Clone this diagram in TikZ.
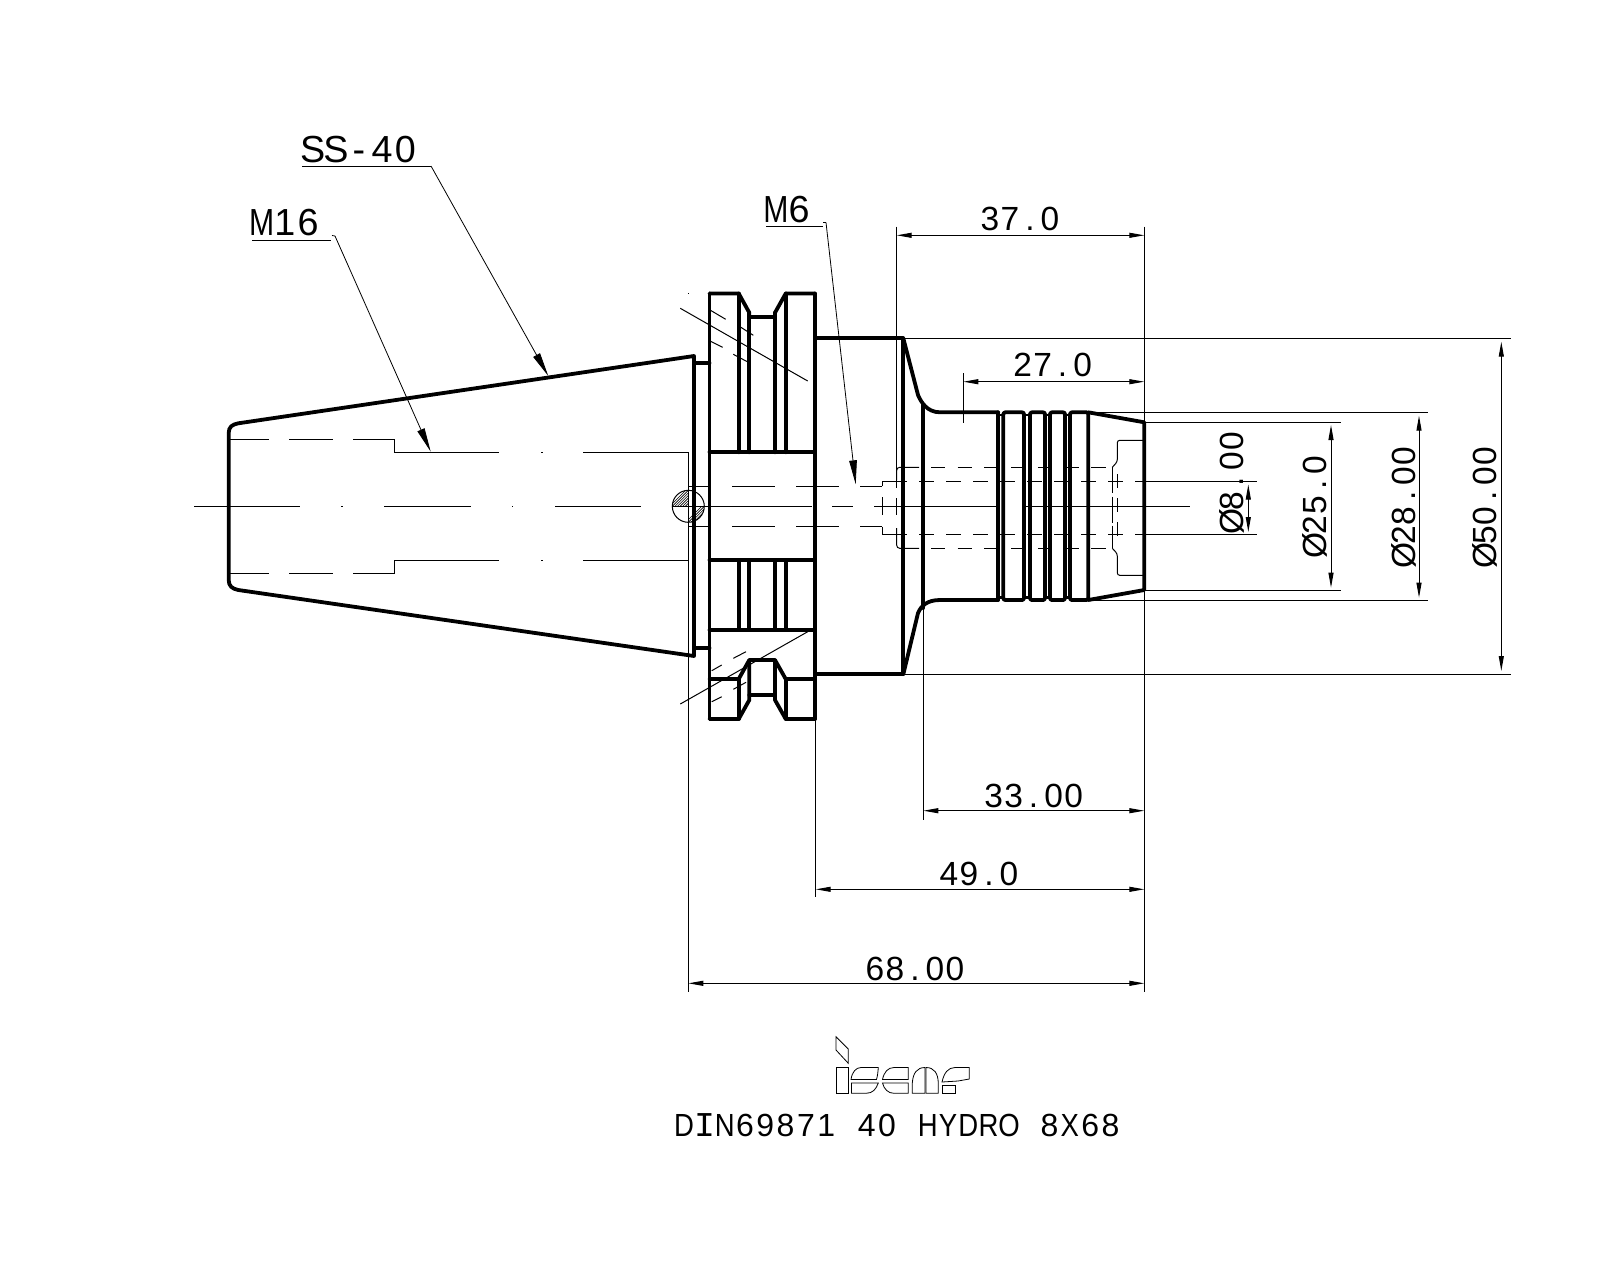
\documentclass[tikz,border=0pt]{standalone}
\usepackage{graphicx}
\usepackage{fontspec}
\setmainfont{Liberation Sans}
\newfontfamily\serifI{Liberation Mono}
\usetikzlibrary{arrows.meta}
\makeatletter
\newcommand{\pitched}[2]{\@tfor\pch:=#2\do{\makebox[#1][c]{\pch}}}
\makeatother
\newcommand{\nm}[1]{\scalebox{0.8}[1]{#1}}
\newcommand{\nl}[1]{\scalebox{0.86}[1]{#1}}
\newcommand{\dimtxt}[1]{{\fontsize{16.75}{16.75}\selectfont\pitched{10pt}{#1}}}
\newcommand{\leadtxt}[1]{{\fontsize{18.85}{18.85}\selectfont\pitched{11.6pt}{#1}}}
\newcommand{\titletxt}[1]{{\fontsize{16}{16}\selectfont\pitched{10.15pt}{#1}}}
\tikzset{
  heavy/.style={line width=1.9pt,line join=round,line cap=round},
  fine/.style={line width=0.5pt},
  logo/.style={line width=0.4pt,line join=miter},
  hatchline/.style={line width=0.3pt},
  lbl/.style={inner sep=0pt,outer sep=0pt,anchor=base west},
  vlbl/.style={inner sep=0pt,outer sep=0pt,anchor=base west,rotate=90},
  dimline/.style={fine,{Triangle[length=7.5pt,width=2.5pt]}-{Triangle[length=7.5pt,width=2.5pt]}},
  leader/.style={line width=0.4pt,-{Triangle[length=12pt,width=3.8pt]}},
  hid27/.style={fine,dash pattern=on 7.5pt off 6pt},
  hid467/.style={fine,dash pattern=on 7.2pt off 6.15pt},
}
\begin{document}
\begin{tikzpicture}[x=0.5pt,y=-0.5pt]
\useasboundingbox (0,0) rectangle (1600,1280);
\fill[white] (0,0) rectangle (1600,1280);

% ---- hatching of the locating circle
\begin{scope}
  \clip (672.3,490.3) rectangle (688.3,506.3);
  \clip (688.3,506.3) circle[radius=16];
  \foreach \k in {0,2.6,...,40} \draw[hatchline] (660+\k,516) -- (660+\k+40,476);
\end{scope}
\begin{scope}
  \clip (688.3,506.3) rectangle (704.3,522.3);
  \clip (688.3,506.3) circle[radius=16];
  \foreach \k in {0,2.6,...,40} \draw[hatchline] (676+\k,532) -- (676+\k+40,492);
\end{scope}
\draw[fine] (688.3,506.3) circle[radius=16];

% ---- thin construction and centre lines
\draw[fine] (194,506.3) -- (300,506.3);
\fill (341,505.8) rectangle (342.5,507);
\draw[fine] (384,506.3) -- (471,506.3);
\fill (511.5,505.8) rectangle (513,507);
\draw[fine] (555,506.3) -- (641,506.3);
\draw[fine] (671.7,506.3) -- (812,506.3);
\draw[fine] (832,506.3) -- (853,506.3);
\draw[fine] (874,506.3) -- (1000,506.3);
\draw[fine] (1025,506.3) -- (1190,506.3);

% M16 thread, hidden
\foreach \ya/\yb in {439.3/452.3,573.3/560.3}{
  \draw[fine] (229,\ya) -- (269,\ya);
  \draw[fine] (289,\ya) -- (333,\ya);
  \draw[fine] (353,\ya) -- (394.3,\ya) -- (394.3,\yb) -- (499,\yb);
  \draw[fine] (583,\yb) -- (688.3,\yb);
  \fill (541,\yb-0.6) rectangle (542.5,\yb+0.6);
}
% bore through the flange
\foreach \y in {486,526.5}{
  \draw[fine] (688.3,\y) -- (709.5,\y);
  \draw[fine] (732,\y) -- (775,\y);
  \draw[fine] (796,\y) -- (839,\y);
  \draw[fine] (860,\y) -- (882.3,\y);
}
% stepped hidden bores
\draw[fine] (882.3,486) -- (882.3,481.3) -- (907,481.3);
\draw[fine] (882.3,526.5) -- (882.3,534) -- (907,534);
\draw[fine] (882.3,497) -- (882.3,515);
\draw[hid27] (919,481.3) -- (1144.3,481.3);
\draw[hid27] (919,534) -- (1144.3,534);
\draw[fine] (1144.3,481.3) -- (1257.3,481.3);
\draw[fine] (1144.3,534) -- (1257.3,534);
\draw[fine] (896.7,226.7) -- (896.7,488);
\draw[fine] (896.7,498) -- (896.7,515);
\draw[fine,rounded corners=1.5pt] (896.7,528) -- (896.7,548.3) -- (919,548.3);
\draw[fine,rounded corners=1.5pt] (896.7,480) -- (896.7,467.3) -- (919,467.3);
\draw[hid467] (931,467.3) -- (1112.3,467.3);
\draw[hid467] (931,548.3) -- (1112.3,548.3);
\draw[fine,dash pattern=on 13pt off 1.6pt] (1112.3,467.3) -- (1112.3,548.3);
\draw[fine,dash pattern=on 7pt off 5pt] (1117.3,474) -- (1117.3,541);
\draw[fine,rounded corners=1.2pt] (1112.3,467.3) -- (1117.3,461.7) -- (1117.3,440.3) -- (1144.3,440.3);
\draw[fine,rounded corners=1.2pt] (1112.3,548.3) -- (1117.3,553.7) -- (1117.3,575.3) -- (1144.3,575.3);

% section marks on the flange
\draw[fine] (680.3,308.3) -- (807.7,381);
\draw[fine] (710,310) -- (725.7,319.3);
\draw[fine] (740,326.7) -- (753.3,335.3);
\draw[fine] (710,341) -- (722.7,347.3);
\draw[fine] (733.3,354.3) -- (747.3,361.7);
\fill (687.8,292.8) rectangle (689,294);
\draw[fine] (680.3,704) -- (807.7,631.7);
\draw[fine] (711.7,670.7) -- (721.7,665);
\draw[fine] (733.3,658.3) -- (746,651.7);
\draw[fine] (733.3,689.3) -- (746,682.3);
\draw[fine] (711.7,701.7) -- (721.7,696.7);

% ---- thick outline
% taper
\draw[heavy] (694,356) -- (238.3,423.3) .. controls (232,424.5) and (228.7,427) .. (228.7,433) -- (228.7,580) .. controls (228.7,586) and (232,588.7) .. (238.3,590) -- (694,656) -- cycle;
\draw[heavy] (694,363) -- (709.5,363);
\draw[heavy] (694,648) -- (709.5,648);
% flange
\draw[heavy] (709.5,293.5) -- (709.5,719);
\draw[heavy] (815,293.5) -- (815,719);
\draw[heavy] (709.5,293.5) -- (738.7,293.5) -- (749.3,312.7) -- (749.3,317) -- (775,317) -- (775,312.7) -- (785.7,293.5) -- (815,293.5);
\draw[heavy] (738.7,293.5) -- (738.7,452.3);
\draw[heavy] (749.3,312.7) -- (749.3,452.3);
\draw[heavy] (775,312.7) -- (775,452.3);
\draw[heavy] (785.7,293.5) -- (785.7,452.3);
\draw[heavy] (709.5,452.3) -- (815,452.3);
\draw[heavy] (709.5,560.3) -- (815,560.3);
\draw[heavy] (738.7,560.3) -- (738.7,630);
\draw[heavy] (749.3,560.3) -- (749.3,630);
\draw[heavy] (775,560.3) -- (775,630);
\draw[heavy] (785.7,560.3) -- (785.7,630);
\draw[heavy] (709.5,630) -- (815,630);
% lower notch
\draw[heavy] (709.5,679) -- (738.7,679) -- (749.3,660) -- (775,660) -- (785.7,679) -- (815,679);
\draw[heavy] (709.5,719) -- (738.7,719) -- (749.3,700) -- (749.3,660);
\draw[heavy] (738.7,679) -- (738.7,719);
\draw[heavy] (749.3,695.3) -- (775,695.3);
\draw[heavy] (815,719) -- (785.7,719) -- (775,700) -- (775,660);
\draw[heavy] (785.7,679) -- (785.7,719);
% body
\draw[heavy] (815,338.3) -- (903.3,338.3) -- (903.3,674.3) -- (815,674.3);
\draw[heavy] (903.3,338.3) -- (918,395) .. controls (921,402) and (927,412.3) .. (940,412.3) -- (998.3,412.3);
\draw[heavy] (903.3,674.3) -- (918,613) .. controls (921,606) and (927,600) .. (940,600) -- (998.3,600);
\draw[heavy] (923.3,405) -- (923.3,608);
% rings
\draw[heavy] (998.3,412.3) -- (998.3,600);
\draw[heavy,rounded corners=1pt] (1003.3,600) -- (1003.3,412.3) -- (1024,412.3) -- (1024,600) -- cycle;
\draw[heavy,rounded corners=1pt] (1030,600) -- (1030,412.3) -- (1045,412.3) -- (1045,600) -- cycle;
\draw[heavy,rounded corners=1pt] (1050,600) -- (1050,412.3) -- (1065,412.3) -- (1065,600) -- cycle;
\draw[heavy,rounded corners=1pt] (1070,600) -- (1070,412.3) -- (1088.3,412.3) -- (1088.3,600) -- cycle;
\foreach \a/\b in {998.3/1003.3,1024/1030,1045/1050,1065/1070}{
  \draw[line width=1.2pt] (\a,415) -- (\b,415);
  \draw[line width=1.2pt] (\a,597.3) -- (\b,597.3);
}
% nose
\draw[heavy] (1088.3,412.3) -- (1144.3,422.3) -- (1144.3,590) -- (1088.3,600);

% ---- extension lines
\draw[fine] (1144.3,226.7) -- (1144.3,992);
\draw[fine] (903.3,338.3) -- (1510.7,338.3);
\draw[fine] (903.3,674.3) -- (1510.7,674.3);
\draw[fine] (1088.3,412.3) -- (1427.7,412.3);
\draw[fine] (1144.3,422.3) -- (1340.7,422.3);
\draw[fine] (1144.3,590) -- (1340.7,590);
\draw[fine] (1088.3,600) -- (1427.7,600);
\draw[fine] (963.3,373.3) -- (963.3,422.7);
\draw[fine] (923.3,608) -- (923.3,820);
\draw[fine] (815,719) -- (815,897.3);
\draw[fine] (688.3,452.3) -- (688.3,992.3);

% ---- dimension lines
\coordinate (d37a) at (896.7,235.3); \coordinate (d37b) at (1144.3,235.3);
\coordinate (d27a) at (963.3,381.7); \coordinate (d27b) at (1144.3,381.7);
\coordinate (d33a) at (923.3,810.7); \coordinate (d33b) at (1144.3,810.7);
\coordinate (d49a) at (815.7,889.3); \coordinate (d49b) at (1144.3,889.3);
\coordinate (d68a) at (688.3,983.3); \coordinate (d68b) at (1144.3,983.3);
\coordinate (d8a) at (1248.3,484.5); \coordinate (d8b) at (1248.3,532);
\coordinate (d25a) at (1331,425); \coordinate (d25b) at (1331,587.7);
\coordinate (d28a) at (1419,415.7); \coordinate (d28b) at (1419,597.7);
\coordinate (d50a) at (1501.3,341.7); \coordinate (d50b) at (1501.3,671);
\draw[dimline] (d37a) -- (d37b);
\draw[dimline] (d27a) -- (d27b);
\draw[dimline] (d33a) -- (d33b);
\draw[dimline] (d49a) -- (d49b);
\draw[dimline] (d68a) -- (d68b);
\draw[dimline] (d8a) -- (d8b);
\draw[dimline] (d25a) -- (d25b);
\draw[dimline] (d28a) -- (d28b);
\draw[dimline] (d50a) -- (d50b);

% ---- labels
\node[lbl] (t37) at (980,230.7) {\dimtxt{37.0}};
\node[lbl] (t27) at (1012.6,376.7) {\dimtxt{27.0}};
\node[lbl] (t33) at (983.6,807.3) {\dimtxt{33.00}};
\node[lbl] (t49) at (939,885) {\dimtxt{49.0}};
\node[lbl] (t68) at (865,980) {\dimtxt{68.00}};
\node[vlbl] (t8) at (1243.3,531.4) {\dimtxt{Ø8.00}};
\node[vlbl] (t25) at (1326.7,555) {\dimtxt{Ø25.0}};
\node[vlbl] (t28) at (1415,565.7) {\dimtxt{Ø28.00}};
\node[vlbl] (t50) at (1496.7,565.7) {\dimtxt{Ø50.00}};
\node[lbl] (tss) at (301,162.3) {\leadtxt{SS-40}};
\node[lbl] (tm16) at (250,235) {\leadtxt{{\nm M}16}};
\node[lbl] (tm6) at (764.3,222.7) {\leadtxt{{\nm M}6}};
\node[lbl] (ttitle) at (674,1136) {\titletxt{{\nl D}{\serifI\fontsize{17.4}{17.4}\selectfont I}{\nl N}69871~40~{\nl H}{\nl Y}{\nl D}{\nl R}{\nl O}~8{\nl X}68}};

% ---- leaders
\coordinate (ssk) at (431,166); \coordinate (sstip) at (548.3,376);
\coordinate (m16k) at (335,236); \coordinate (m16tip) at (430.7,451.7);
\coordinate (m6k) at (826,222.5); \coordinate (m6tip) at (855.7,484.3);
\draw[fine] (302,166) -- (ssk);
\draw[leader] (ssk) -- (sstip);
\draw[fine] (252,240) -- (331,240);
\draw[line width=0.4pt] (332,235.5) -- (m16k);
\draw[leader] (m16k) -- (m16tip);
\draw[fine] (766,226) -- (823,226);
\draw[line width=0.4pt] (823,222.5) -- (m6k);
\draw[leader] (m6k) -- (m6tip);

% ---- logo
\draw[logo] (836,1036.7) -- (848.3,1049) -- (848.3,1063.3) -- (836,1050) -- cycle;
\draw[logo] (836,1067.3) rectangle (848.7,1093.3);
\draw[logo] (851,1079.5) .. controls (852,1072) and (856,1067.5) .. (861,1067.5) -- (878.3,1067.5) .. controls (878,1072) and (877.5,1076) .. (876.5,1079.5) -- cycle;
\draw[logo] (851.5,1083) -- (878.3,1083) .. controls (876,1089) and (873,1093.3) .. (866,1093.3) -- (851.5,1093.3) -- cycle;
\draw[logo] (882.5,1079.5) .. controls (884,1072) and (888,1067.5) .. (894,1067.5) -- (908.3,1067.5) -- (908.3,1079.5) -- cycle;
\draw[logo] (882.5,1083) -- (908.3,1083) -- (908.3,1093.3) -- (894,1093.3) .. controls (888,1093.3) and (884,1089) .. (882.5,1083) -- cycle;
\draw[logo] (912.3,1093.3) -- (912.3,1083) .. controls (913,1073) and (917,1067.5) .. (925,1067.5) -- (925,1093.3) -- cycle;
\draw[logo] (926,1067.5) .. controls (934,1067.5) and (938,1073) .. (938.3,1083) -- (938.3,1093.3) -- (926,1093.3) -- cycle;
\draw[logo] (942,1082) .. controls (944,1073) and (948,1067.5) .. (955,1067.5) -- (969.3,1067.5) -- (969.3,1079) -- (958,1081) -- (942,1082) -- cycle;
\draw[logo] (942,1085) rectangle (955,1093.3);
\end{tikzpicture}
\end{document}
